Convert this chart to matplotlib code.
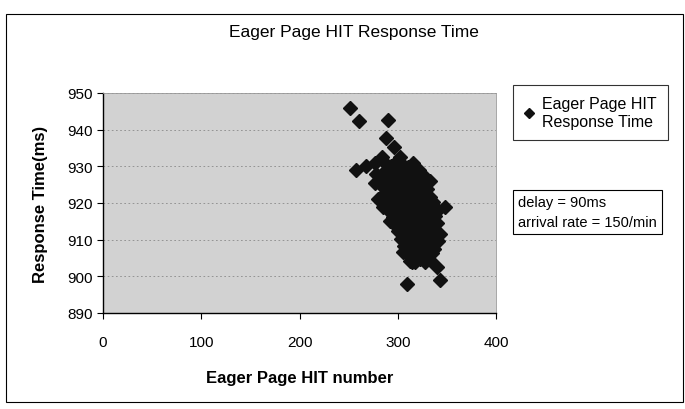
import matplotlib
matplotlib.use("Agg")
import matplotlib.pyplot as plt
from matplotlib.patches import Rectangle

plt.rcParams['font.family'] = ['Liberation Sans', 'DejaVu Sans']

# datos (numero de HIT, tiempo de respuesta en ms)
hit_number = [
    251, 261, 290, 288, 296, 284, 302, 258, 268, 277, 322, 278, 277, 333,
    282, 338, 348, 336, 343, 340, 343, 309, 315, 305, 304, 292, 285, 280,
    288, 293, 298.5, 305, 310, 316,
    285, 291, 296, 301.5, 307, 313, 319, 326,
    283, 289, 294.5, 299, 304, 310, 315.5, 321, 328,
    286, 291, 297, 302, 307.5, 312, 318, 324, 330,
    284, 289.5, 294, 300, 305, 311, 316, 322, 327, 333,
    287, 292, 298, 303, 308, 314, 319.5, 325, 331, 336,
    290, 296, 301, 306, 312, 317, 323, 328, 334, 341,
    295, 299, 304, 310, 315, 320, 326, 331, 338,
    297, 302, 308, 313, 318, 324, 329, 335, 340,
    300, 306, 311, 316, 322, 327, 333, 338,
    303, 308, 313, 319, 324, 330, 336, 341,
    306, 311, 316, 321, 327, 332, 337,
    309, 314, 319, 325, 330, 335,
    312, 318, 323, 328, 333,
]
response_ms = [
    945.9, 942.3, 942.6, 937.7, 935.2, 932.6, 932.5, 929.0, 930.2, 931.0, 929.0, 928.0, 925.4, 926.0,
    921.0, 918.4, 919.0, 915.7, 911.6, 902.6, 898.9, 898.0, 904.0, 906.6, 911.6, 915.0, 919.0, 921.0,
    930.6, 930.0, 931.1, 930.3, 929.8, 930.9,
    928.3, 927.7, 928.8, 928.1, 927.5, 928.6, 928.0, 927.6,
    926.1, 926.7, 925.6, 926.3, 925.9, 926.5, 925.8, 926.2, 925.5,
    924.2, 923.6, 924.7, 924.0, 923.8, 924.5, 923.7, 924.3, 923.9,
    922.0, 922.6, 921.5, 922.3, 921.8, 922.4, 921.6, 922.1, 922.7, 921.7,
    920.3, 919.8, 920.7, 920.1, 919.6, 920.5, 920.0, 919.7, 920.4, 920.2,
    918.1, 917.6, 918.6, 917.9, 918.3, 917.5, 918.0, 918.5, 917.7, 918.2,
    916.2, 915.7, 916.6, 916.0, 915.8, 916.4, 915.6, 916.1, 916.5,
    914.0, 914.5, 913.6, 914.2, 913.8, 914.4, 913.7, 914.1, 914.6,
    912.3, 911.8, 912.6, 912.0, 911.7, 912.4, 911.9, 912.5,
    910.1, 910.6, 909.7, 910.3, 909.9, 910.5, 910.0, 909.6,
    908.2, 907.7, 908.6, 908.0, 907.8, 908.4, 907.5,
    906.0, 906.5, 905.7, 906.3, 905.8, 906.4,
    904.3, 903.8, 904.6, 904.0, 904.5,
]

x_ticks = [0, 100, 200, 300, 400]
y_ticks = [890, 900, 910, 920, 930, 940, 950]

fig = plt.figure(figsize=(6.85, 4.10), dpi=100)
ax = fig.add_axes([103/685, 1-314/410, 393/685, 220/410])

ax.set_facecolor('#d2d2d2')
ax.plot(hit_number, response_ms, linestyle='none', marker='D', markersize=7,
        color='#111111', label='Eager Page HIT\nResponse Time', zorder=3)

ax.set_xlim(0, 400)
ax.set_ylim(890, 950)
ax.set_xticks(x_ticks)
ax.set_yticks(y_ticks)
ax.tick_params(labelsize=11, length=4, width=0.8, color='black')
ax.tick_params(axis='x', pad=12)
ax.yaxis.grid(True, color='#8a8a8a', linestyle=(0, (2, 3)), linewidth=0.6)
ax.set_axisbelow(True)
for s in ['top', 'right']:
    ax.spines[s].set_color('#999999')
    ax.spines[s].set_linewidth(0.6)
for s in ['left', 'bottom']:
    ax.spines[s].set_linewidth(1.0)

ax.set_xlabel('Eager Page HIT number', fontsize=12, fontweight='bold', labelpad=15)
ax.set_ylabel('Response Time(ms)', fontsize=12, fontweight='bold', labelpad=14)

fig.text(354/685, 1-33/410, 'Eager Page HIT Response Time', fontsize=12.5,
         ha='center', va='center')

leg = ax.legend(loc='upper left', bbox_to_anchor=(513/685, 1-86/410),
                bbox_transform=fig.transFigure, fontsize=11.5, frameon=True,
                fancybox=False, edgecolor='black', borderaxespad=0,
                handlelength=0.6, handletextpad=0.5, borderpad=0.7,
                markerscale=0.8)
leg.get_frame().set_linewidth(0.8)

fig.text(518/685, 1-213/410, 'delay = 90ms\narrival rate = 150/min', fontsize=10.5,
         ha='left', va='center', linespacing=1.6,
         bbox=dict(boxstyle='square,pad=0.35', fc='white', ec='black', lw=0.8))

fig.patches.append(Rectangle((6/685, 7/410), 677/685, 388/410,
                             transform=fig.transFigure, fill=False,
                             ec='black', lw=0.8))

fig.savefig('out.png', dpi=100)
